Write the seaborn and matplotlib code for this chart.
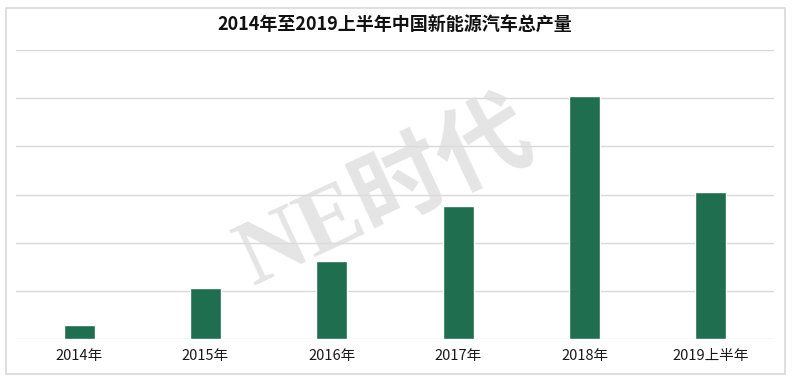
import matplotlib.pyplot as plt
import pandas as pd
import seaborn as sns
from matplotlib.patches import Rectangle

# 中国新能源汽车产量 (万辆)
years = ["2014年", "2015年", "2016年", "2017年", "2018年", "2019上半年"]
output = [7.4, 26.7, 40.3, 69.0, 126.3, 76.2]
grid_ticks = [0, 25, 50, 75, 100, 125, 150]

TITLE = "2014年至2019上半年中国新能源汽车总产量"
BAR_COLOR = "#1f6e4f"
GRID_COLOR = "#d9d9d9"

sns.set_theme(style="white")
plt.rcParams["font.family"] = ["Noto Sans CJK SC", "DejaVu Sans"]

df = pd.DataFrame({"year": years, "output": output})

fig = plt.figure(figsize=(7.92, 3.81), dpi=100)
ax = fig.add_axes([16 / 792, 1 - 339 / 381, 758 / 792, 289 / 381])

sns.barplot(data=df, x="year", y="output", color=BAR_COLOR, saturation=1,
            width=0.245, ax=ax, zorder=3)

ax.set_ylim(0, 150)
ax.set_yticks(grid_ticks)
ax.set_yticklabels([])
ax.yaxis.grid(True, color=GRID_COLOR, linewidth=1)
ax.set_axisbelow(True)
ax.set_xlim(-0.5, len(years) - 0.5)
ax.set_xlabel("")
ax.set_ylabel("")
ax.tick_params(axis="x", length=0, pad=7, labelsize=10.5, labelcolor="#1a1a1a")
ax.tick_params(axis="y", length=0)
sns.despine(ax=ax, left=True, bottom=True)

fig.suptitle(TITLE, x=395 / 792, y=1 - 25 / 381, va="center",
             fontsize=13, fontweight="bold", color="#111111")

# watermark
fig.text(386 / 792, 1 - 198 / 381, "NE时代", rotation=25, ha="center", va="center",
         fontsize=67, fontweight="bold", color="#dcdcdc", alpha=0.75,
         family=["Liberation Serif", "Noto Sans CJK SC"], zorder=10)

# outer frame
fig.patches.append(Rectangle((6 / 792, 1 - 374 / 381), 779 / 792, 366 / 381,
                             transform=fig.transFigure, fill=False,
                             edgecolor=GRID_COLOR, linewidth=1.2))

fig.savefig("out.png", dpi=100)
